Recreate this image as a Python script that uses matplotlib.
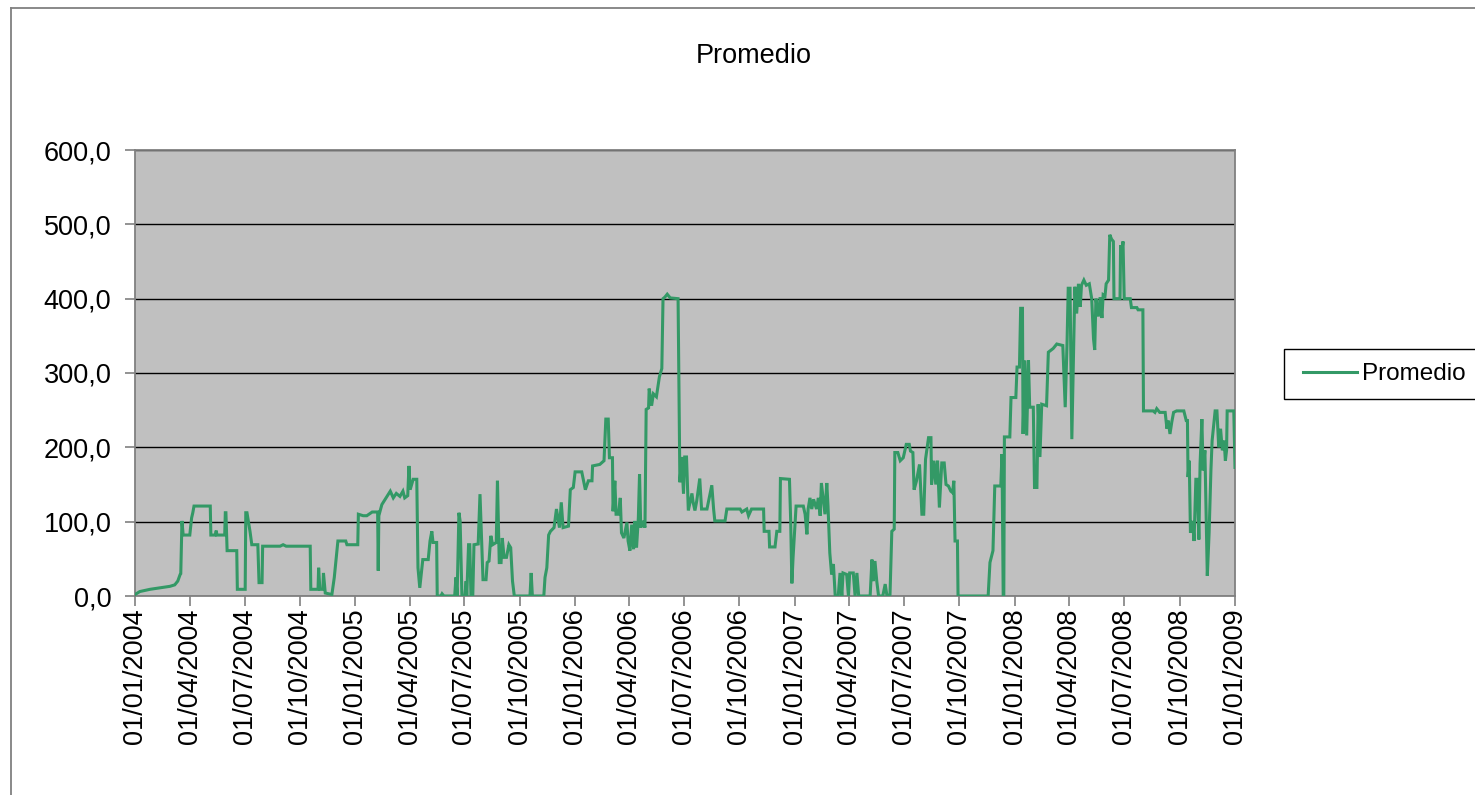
import matplotlib
matplotlib.use("Agg")
import matplotlib.pyplot as plt
import matplotlib.dates as mdates
from matplotlib.lines import Line2D
from matplotlib.patches import Rectangle
from matplotlib.ticker import FuncFormatter
import pandas as pd

plt.rcParams['font.family'] = ['Liberation Sans', 'DejaVu Sans']

title = "Promedio"
series_name = "Promedio"
start_date = "2004-01-01"
end_date = "2009-01-01"

# days elapsed since 01/01/2004
days = [
    0, 8, 25, 42, 58, 66, 71, 75, 76, 78, 80, 91, 94, 96, 98, 125, 126, 133, 135, 136,
    149, 150, 151, 153, 169, 170, 183, 184, 186, 191, 194, 204, 206, 211, 212, 241, 246, 251, 274, 291,
    292, 304, 305, 307, 312, 313, 316, 327, 331, 337, 350, 352, 370, 371, 379, 385, 394, 403, 404, 405,
    410, 417, 424, 429, 434, 440, 445, 448, 453, 455, 457, 462, 468, 470, 473, 478, 487, 490, 493, 495,
    501, 502, 508, 510, 513, 531, 533, 535, 538, 540, 543, 548, 550, 551, 554, 556, 558, 561, 563, 570,
    573, 576, 578, 583, 585, 588, 591, 594, 600, 602, 605, 608, 610, 613, 617, 621, 624, 627, 630, 656,
    658, 660, 679, 681, 684, 687, 690, 696, 700, 705, 708, 711, 720, 723, 728, 731, 742, 745, 748, 753,
    759, 760, 772, 779, 782, 786, 788, 793, 794, 797, 799, 803, 806, 808, 812, 817, 819, 822, 825, 828,
    830, 833, 836, 838, 840, 844, 847, 849, 853, 854, 858, 861, 866, 871, 875, 877, 880, 884, 889, 902,
    905, 908, 911, 913, 916, 919, 925, 927, 930, 933, 938, 941, 950, 958, 961, 963, 980, 983, 1005, 1008,
    1016, 1019, 1024, 1044, 1045, 1053, 1054, 1063, 1066, 1071, 1072, 1087, 1089, 1091, 1093, 1096, 1098, 1110, 1113, 1116,
    1118, 1121, 1124, 1127, 1132, 1135, 1138, 1140, 1146, 1149, 1151, 1154, 1157, 1160, 1163, 1168, 1171, 1174, 1176, 1182,
    1185, 1187, 1193, 1196, 1199, 1202, 1221, 1224, 1226, 1229, 1232, 1235, 1242, 1246, 1249, 1254, 1257, 1261, 1262, 1267,
    1271, 1276, 1281, 1286, 1288, 1292, 1294, 1298, 1303, 1307, 1310, 1313, 1318, 1322, 1323, 1327, 1330, 1333, 1336, 1340,
    1344, 1347, 1351, 1355, 1358, 1360, 1362, 1366, 1367, 1417, 1420, 1425, 1428, 1438, 1440, 1442, 1443, 1444, 1453, 1455,
    1463, 1465, 1469, 1471, 1474, 1475, 1478, 1481, 1484, 1486, 1492, 1494, 1498, 1500, 1503, 1506, 1514, 1517, 1525, 1531,
    1541, 1545, 1548, 1550, 1553, 1556, 1558, 1561, 1564, 1567, 1570, 1572, 1576, 1580, 1585, 1589, 1592, 1594, 1596, 1600,
    1603, 1606, 1608, 1611, 1613, 1617, 1619, 1622, 1625, 1626, 1636, 1637, 1639, 1641, 1643, 1653, 1655, 1664, 1666, 1674,
    1675, 1691, 1694, 1697, 1702, 1711, 1714, 1716, 1719, 1722, 1725, 1730, 1742, 1746, 1748, 1749, 1751, 1753, 1757, 1759,
    1762, 1764, 1767, 1769, 1772, 1774, 1777, 1781, 1784, 1787, 1789, 1794, 1797, 1800, 1803, 1806, 1809, 1811, 1813, 1814,
    1825, 1827,
]

promedio = [
    2, 6, 9, 11, 13, 15, 20, 29, 30, 101, 82, 82, 105, 112, 121, 121, 82, 82, 88, 82,
    82, 112, 112, 61, 61, 9, 9, 112, 112, 87, 69, 69, 18, 18, 67, 67, 69, 67, 67, 67,
    9, 9, 38, 9, 9, 31, 4, 2, 25, 74, 74, 69, 69, 110, 108, 108, 113, 113, 34, 108,
    123, 132, 141, 132, 138, 134, 141, 132, 135, 175, 143, 157, 157, 38, 11, 49, 49, 74, 87, 72,
    72, 0, 0, 3, 0, 0, 25, 0, 112, 101, 0, 0, 20, 0, 69, 69, 0, 0, 69, 70,
    137, 69, 22, 22, 45, 47, 81, 69, 72, 155, 45, 45, 78, 52, 52, 69, 65, 20, 0, 0,
    31, 0, 0, 25, 38, 82, 87, 92, 117, 92, 126, 92, 94, 143, 146, 167, 167, 155, 143, 155,
    155, 175, 177, 182, 238, 238, 186, 186, 114, 155, 110, 110, 132, 85, 78, 99, 74, 61, 96, 63,
    101, 65, 105, 164, 92, 101, 92, 251, 253, 279, 256, 272, 268, 295, 306, 400, 402, 406, 401, 400,
    153, 187, 138, 187, 187, 115, 138, 126, 115, 128, 158, 117, 117, 149, 117, 101, 101, 117, 117, 113,
    117, 108, 117, 117, 87, 87, 66, 66, 87, 87, 158, 157, 102, 17, 52, 94, 121, 121, 110, 83,
    117, 132, 117, 130, 117, 132, 108, 152, 110, 152, 121, 58, 29, 43, 0, 0, 31, 0, 31, 29,
    0, 31, 31, 0, 31, 0, 0, 49, 20, 47, 20, 0, 0, 16, 0, 2, 87, 90, 193, 193,
    182, 186, 204, 204, 195, 193, 143, 155, 177, 110, 110, 184, 213, 213, 150, 182, 150, 182, 119, 179,
    179, 150, 148, 141, 139, 155, 74, 74, 0, 0, 45, 61, 148, 148, 191, 0, 0, 214, 214, 267,
    267, 308, 308, 387, 387, 218, 317, 216, 317, 254, 254, 146, 146, 258, 187, 258, 256, 328, 333, 339,
    337, 254, 339, 414, 414, 211, 294, 416, 380, 420, 389, 418, 425, 418, 420, 400, 346, 331, 400, 376,
    402, 374, 405, 403, 420, 425, 486, 480, 477, 400, 400, 472, 463, 477, 400, 400, 388, 388, 385, 385,
    249, 249, 247, 252, 247, 247, 225, 236, 218, 234, 247, 249, 249, 236, 236, 160, 182, 85, 101, 74,
    157, 157, 76, 178, 238, 169, 196, 27, 85, 169, 209, 249, 249, 200, 225, 196, 209, 182, 196, 249,
    249, 173,
]

y_ticks = [0, 100, 200, 300, 400, 500, 600]

dates = pd.Timestamp(start_date) + pd.to_timedelta(days, unit="D")

W, H = 1475, 795
fig = plt.figure(figsize=(W / 100, H / 100), dpi=100)
fig.patch.set_facecolor("white")

ax = fig.add_axes([135 / W, 1 - 596 / H, (1235 - 135) / W, (596 - 150) / H])
ax.set_facecolor("#C0C0C0")

line_color = "#339966"
ax.plot(dates, promedio, color=line_color, lw=2.2, solid_joinstyle="miter", zorder=3)

ax.set_xlim(pd.Timestamp(start_date), pd.Timestamp(end_date))
ax.set_ylim(y_ticks[0], y_ticks[-1])
ax.set_yticks(y_ticks)
ax.yaxis.set_major_formatter(FuncFormatter(lambda v, p: f"{v:.1f}".replace(".", ",")))
ax.grid(axis="y", color="black", lw=1.0, zorder=1)
ax.set_axisbelow(True)

ax.xaxis.set_major_locator(mdates.MonthLocator(bymonth=[1, 4, 7, 10], bymonthday=1))
ax.xaxis.set_major_formatter(mdates.DateFormatter("%d/%m/%Y"))
ax.tick_params(axis="x", labelrotation=90, labelsize=19.5, length=7, width=1.2,
               color="#808080", pad=2)
ax.tick_params(axis="y", labelsize=19.5, length=7, width=1.2, color="#808080", pad=10)

for s in ax.spines.values():
    s.set_color("#808080")
    s.set_linewidth(1.3)

fig.text(754 / W, 1 - 56 / H, title, ha="center", va="center", fontsize=19.5)

# legend frame (extends past the right edge as in the reference)
fig.add_artist(Rectangle((1284 / W, 1 - 399 / H), 200 / W, 50 / H,
                         transform=fig.transFigure, facecolor="white",
                         edgecolor="black", lw=1.0, zorder=1))
handle = Line2D([], [], color=line_color, lw=2.2)
leg = fig.legend([handle], [series_name], loc="center left",
                 bbox_to_anchor=(1303 / W, 1 - 374 / H), fontsize=17.5,
                 frameon=False, handlelength=2.22, handletextpad=0.2,
                 borderpad=0, borderaxespad=0)
leg.set_zorder(2)

# outer chart-area frame (left and top edges visible)
fig.add_artist(Line2D([10.5 / W, 10.5 / W], [0, 1 - 8 / H], transform=fig.transFigure,
                      color="#808080", lw=1.3))
fig.add_artist(Line2D([10.5 / W, 1], [1 - 8 / H, 1 - 8 / H], transform=fig.transFigure,
                      color="#808080", lw=1.3))

fig.savefig("out.png", dpi=100)
